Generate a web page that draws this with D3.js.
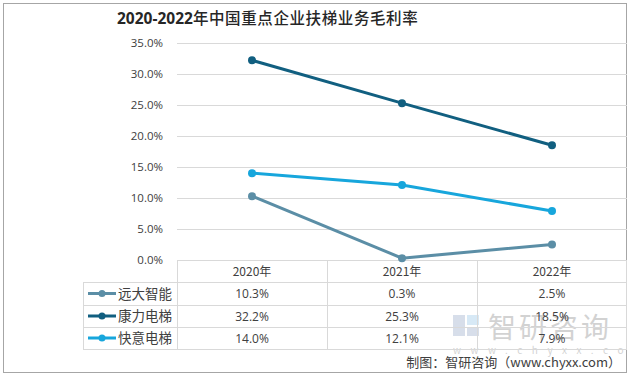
<!DOCTYPE html>
<html><head><meta charset="utf-8">
<script src="https://cdn.jsdelivr.net/npm/d3@7"></script>
<style>body{margin:0;background:#fff;font-family:"Noto Sans CJK SC","Noto Sans",sans-serif;}</style>
</head><body>
<svg id="c" width="630" height="377"></svg>
<script>
const categories = ["2020年","2021年","2022年"];
const seriesNames = ["远大智能","康力电梯","快意电梯"];
const yuanda = [10.3, 0.3, 2.5];
const kangli = [32.2, 25.3, 18.5];
const kuaiyi = [14.0, 12.1, 7.9];
const yTicks = [0,5,10,15,20,25,30,35];
const colors = ["#5b8ea6","#115f80","#17a6dc"];
const series = [yuanda, kangli, kuaiyi];

const svg = d3.select("#c");
svg.append("rect").attr("x",3.5).attr("y",3.5).attr("width",623).attr("height",369)
  .attr("fill","#fff").attr("stroke","#a6a6a6");

const L=177, R=627, T=43, B=260;
const x = d3.scaleBand().domain(categories).range([L,R]);
const y = d3.scaleLinear().domain([0,35]).range([B,T]);

// title
const title = svg.append("text").attr("x",117).attr("y",24).attr("font-size",15.5).attr("fill","#262626");
title.append("tspan").attr("font-weight","bold").attr("font-family","'Open Sans','Noto Sans',sans-serif").text("2020-2022");
title.append("tspan").attr("font-weight","500").attr("letter-spacing",0.6).text("年中国重点企业扶梯业务毛利率");

// grid
svg.append("g").selectAll("line").data(yTicks).join("line")
  .attr("x1",L).attr("x2",R).attr("y1",d=>y(d)+0.5).attr("y2",d=>y(d)+0.5)
  .attr("stroke","#d9d9d9").attr("stroke-width",1);
svg.append("g").selectAll("text").data(yTicks).join("text")
  .attr("x",163).attr("y",d=>y(d)+4).attr("text-anchor","end")
  .attr("font-size",11.5).attr("fill","#404040").attr("font-family","'Open Sans','Noto Sans',sans-serif")
  .text(d=>d.toFixed(1)+"%");

// watermark
const wm = svg.append("g").attr("opacity",0.35);
wm.append("rect").attr("x",453).attr("y",315).attr("width",12).attr("height",21).attr("fill","#8fa3c4");
wm.append("rect").attr("x",467).attr("y",315).attr("width",12).attr("height",10).attr("fill","#8fc3e6");
wm.append("rect").attr("x",467).attr("y",327).attr("width",12).attr("height",9).attr("fill","#8fa3c4");
wm.append("text").attr("x",488).attr("y",338).attr("font-size",28).attr("fill","#7f7f7f").attr("letter-spacing",3).text("智研咨询");
wm.append("text").attr("x",453).attr("y",354).attr("font-size",10).attr("fill","#7f7f7f").attr("letter-spacing",9.5).text("www.chyxx.com");

// table
const rowsY = [260,282,305,327,349];
const tg = svg.append("g").attr("stroke","#d9d9d9").attr("stroke-width",1);
tg.append("line").attr("x1",L).attr("x2",R).attr("y1",260.5).attr("y2",260.5);
rowsY.slice(1).forEach(r=>tg.append("line").attr("x1",83).attr("x2",R).attr("y1",r+0.5).attr("y2",r+0.5));
tg.append("line").attr("x1",83.5).attr("x2",83.5).attr("y1",282).attr("y2",349);
categories.forEach(c=>tg.append("line").attr("x1",x(c)+0.5).attr("x2",x(c)+0.5).attr("y1",260).attr("y2",349));
tg.append("line").attr("x1",R-0.5).attr("x2",R-0.5).attr("y1",260).attr("y2",349);

svg.append("g").selectAll("text").data(categories).join("text")
  .attr("x",d=>x(d)+x.bandwidth()/2).attr("y",276).attr("text-anchor","middle")
  .attr("font-size",12).attr("fill","#404040").text(d=>d);

series.forEach((s,i)=>{
  const cy = (rowsY[i+1]+rowsY[i+2])/2;
  svg.append("line").attr("x1",88).attr("x2",116).attr("y1",cy).attr("y2",cy)
    .attr("stroke",colors[i]).attr("stroke-width",3);
  svg.append("circle").attr("cx",102).attr("cy",cy).attr("r",3.5).attr("fill",colors[i]);
  svg.append("text").attr("x",118).attr("y",cy+5).attr("font-size",13.5).attr("fill","#404040").text(seriesNames[i]);
  svg.append("g").selectAll("text").data(s).join("text")
    .attr("x",(d,j)=>x(categories[j])+x.bandwidth()/2).attr("y",cy+4.5).attr("text-anchor","middle")
    .attr("font-size",12).attr("fill","#404040").attr("font-family","'Open Sans','Noto Sans',sans-serif")
    .text(d=>d.toFixed(1)+"%");
});

// lines
const line = d3.line().x((d,j)=>x(categories[j])+x.bandwidth()/2).y(d=>y(d));
series.forEach((s,i)=>{
  svg.append("path").attr("d",line(s)).attr("fill","none").attr("stroke",colors[i]).attr("stroke-width",3);
  svg.append("g").selectAll("circle").data(s).join("circle")
    .attr("cx",(d,j)=>x(categories[j])+x.bandwidth()/2).attr("cy",d=>y(d)).attr("r",4).attr("fill",colors[i]);
});

// footer
svg.append("text").attr("x",621).attr("y",367).attr("text-anchor","end").attr("font-size",13)
  .attr("fill","#404040").text("制图：智研咨询（www.chyxx.com）");
</script>
</body></html>
